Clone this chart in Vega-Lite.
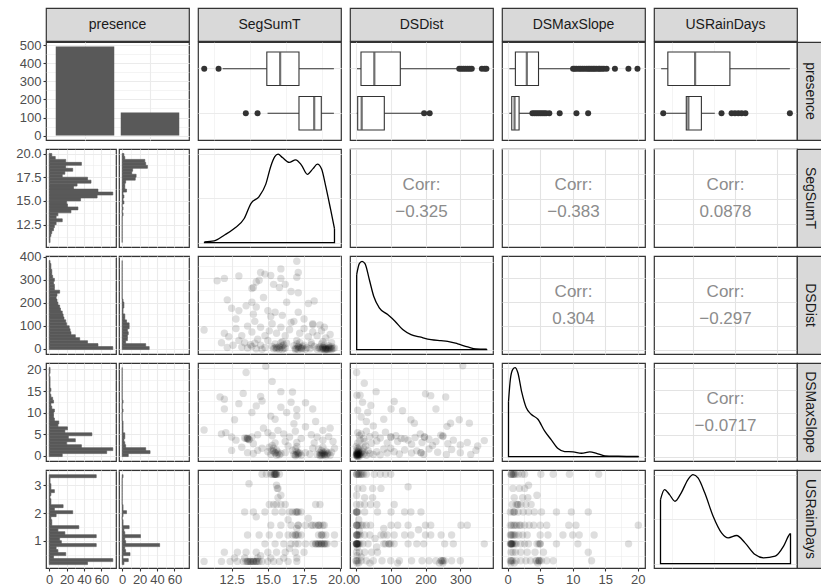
{
"$schema":"https://vega.github.io/schema/vega-lite/v6.json",
"background":"#ffffff",
"padding":{"left":15,"top":7,"right":0,"bottom":0},
"spacing":-6,
"config":{
 "font":"Liberation Sans",
 "view":{"stroke":"#333333","strokeWidth":1.2,"fill":"#ffffff"},
 "axis":{"domain":false,"ticks":false,"labels":false,"grid":true,"gridColor":"#ebebeb","labelFont":"Liberation Sans","labelFontSize":13,"labelColor":"#4d4d4d","tickColor":"#333333","tickSize":3,"tickWidth":1.1,"labelPadding":2,"labelOverlap":false,"labelFlush":false,"labelBound":false}
},
"datasets":{
 "bars":[{"presence":"0","n":494},{"presence":"1","n":128}],
 "box_seg":[{"p":"0","lo":11.88,"q1":14.93,"med":15.85,"q3":17.15,"hi":19.56},{"p":"1","lo":14.98,"q1":17.15,"med":18.2,"q3":18.69,"hi":19.56}],
 "out_seg":[{"p":"0","v":10.61},{"p":"0","v":11.6},{"p":"1","v":13.48},{"p":"1","v":14.29}],
 "box_dsd":[{"p":"0","lo":3.1,"q1":14.6,"med":52.9,"q3":127.6,"hi":292},{"p":"1","lo":2,"q1":5.1,"med":16.6,"q3":81.6,"hi":190}],
 "out_dsd":[{"p":"0","v":297},{"p":"0","v":303},{"p":"0","v":309},{"p":"0","v":315},{"p":"0","v":321},{"p":"0","v":327},{"p":"0","v":333},{"p":"0","v":362},{"p":"0","v":370},{"p":"0","v":375},{"p":"1","v":196},{"p":"1","v":212}],
 "box_dsm":[{"p":"0","lo":0.25,"q1":1.18,"med":2.94,"q3":4.74,"hi":9.8},{"p":"1","lo":0.25,"q1":0.62,"med":1.05,"q3":1.75,"hi":3.5}],
 "out_dsm":[{"p":"0","v":10.06},{"p":"0","v":10.3},{"p":"0","v":10.58},{"p":"0","v":10.93},{"p":"0","v":11.2},{"p":"0","v":11.5},{"p":"0","v":11.8},{"p":"0","v":12.12},{"p":"0","v":12.4},{"p":"0","v":12.64},{"p":"0","v":12.9},{"p":"0","v":13.16},{"p":"0","v":13.4},{"p":"0","v":13.67},{"p":"0","v":14.0},{"p":"0","v":14.19},{"p":"0","v":14.5},{"p":"0","v":14.8},{"p":"0","v":15.22},{"p":"0","v":16.5},{"p":"0","v":18.58},{"p":"0","v":19.97},
  {"p":"1","v":3.8},{"p":"1","v":4.1},{"p":"1","v":4.4},{"p":"1","v":4.7},{"p":"1","v":5.0},{"p":"1","v":5.3},{"p":"1","v":5.6},{"p":"1","v":5.9},{"p":"1","v":6.4},{"p":"1","v":8.0},{"p":"1","v":10.58},{"p":"1","v":12.38}],
 "box_usr":[{"p":"0","lo":0.24,"q1":0.4,"med":1.05,"q3":1.88,"hi":3.31},{"p":"1","lo":0.36,"q1":0.84,"med":0.89,"q3":1.2,"hi":1.52}],
 "out_usr":[{"p":"1","v":0.29},{"p":"1","v":1.68},{"p":"1","v":1.92},{"p":"1","v":2.0},{"p":"1","v":2.08},{"p":"1","v":2.16},{"p":"1","v":2.25},{"p":"1","v":3.31}],
 "h_seg":[{"lo":10.62,"hi":10.933,"n0":1,"n1":0},{"lo":10.933,"hi":11.246,"n0":1,"n1":0},{"lo":11.246,"hi":11.559,"n0":2,"n1":0},{"lo":11.559,"hi":11.872,"n0":3,"n1":0},{"lo":11.872,"hi":12.185,"n0":5,"n1":0},{"lo":12.185,"hi":12.498,"n0":6,"n1":0},{"lo":12.498,"hi":12.811,"n0":8,"n1":0},{"lo":12.811,"hi":13.124,"n0":15,"n1":0},{"lo":13.124,"hi":13.437,"n0":8,"n1":0},{"lo":13.437,"hi":13.75,"n0":10,"n1":1},{"lo":13.75,"hi":14.063,"n0":25,"n1":0},{"lo":14.063,"hi":14.376,"n0":33,"n1":1},{"lo":14.376,"hi":14.689,"n0":21,"n1":0},{"lo":14.689,"hi":15.002,"n0":20,"n1":2},{"lo":15.002,"hi":15.315,"n0":36,"n1":1},{"lo":15.315,"hi":15.628,"n0":55,"n1":2},{"lo":15.628,"hi":15.941,"n0":73,"n1":1},{"lo":15.941,"hi":16.254,"n0":56,"n1":5},{"lo":16.254,"hi":16.567,"n0":28,"n1":3},{"lo":16.567,"hi":16.88,"n0":32,"n1":3},{"lo":16.88,"hi":17.193,"n0":48,"n1":4},{"lo":17.193,"hi":17.506,"n0":44,"n1":15},{"lo":17.506,"hi":17.819,"n0":15,"n1":16},{"lo":17.819,"hi":18.132,"n0":18,"n1":11},{"lo":18.132,"hi":18.445,"n0":27,"n1":12},{"lo":18.445,"hi":18.758,"n0":19,"n1":29},{"lo":18.758,"hi":19.071,"n0":37,"n1":27},{"lo":19.071,"hi":19.384,"n0":19,"n1":26},{"lo":19.384,"hi":19.697,"n0":7,"n1":3},{"lo":19.697,"hi":20.01,"n0":3,"n1":2}],
 "h_dsd":[{"lo":-3.6,"hi":9.33,"n0":73,"n1":31},{"lo":9.33,"hi":22.26,"n0":56,"n1":27},{"lo":22.26,"hi":35.19,"n0":44,"n1":4},{"lo":35.19,"hi":48.12,"n0":35,"n1":6},{"lo":48.12,"hi":61.05,"n0":30,"n1":6},{"lo":61.05,"hi":73.98,"n0":25,"n1":7},{"lo":73.98,"hi":86.91,"n0":24,"n1":6},{"lo":86.91,"hi":99.84,"n0":23,"n1":8},{"lo":99.84,"hi":112.77,"n0":20,"n1":8},{"lo":112.77,"hi":125.7,"n0":19,"n1":5},{"lo":125.7,"hi":138.63,"n0":17,"n1":3},{"lo":138.63,"hi":151.56,"n0":16,"n1":3},{"lo":151.56,"hi":164.49,"n0":15,"n1":1},{"lo":164.49,"hi":177.42,"n0":13,"n1":1},{"lo":177.42,"hi":190.35,"n0":12,"n1":2},{"lo":190.35,"hi":203.28,"n0":10,"n1":2},{"lo":203.28,"hi":216.21,"n0":9,"n1":1},{"lo":216.21,"hi":229.14,"n0":8,"n1":0},{"lo":229.14,"hi":242.07,"n0":9,"n1":0},{"lo":242.07,"hi":255,"n0":12,"n1":0},{"lo":255,"hi":267.93,"n0":6,"n1":0},{"lo":267.93,"hi":280.86,"n0":6,"n1":0},{"lo":280.86,"hi":293.79,"n0":5,"n1":0},{"lo":293.79,"hi":306.72,"n0":6,"n1":0},{"lo":306.72,"hi":319.65,"n0":4,"n1":0},{"lo":319.65,"hi":332.58,"n0":3,"n1":0},{"lo":332.58,"hi":345.51,"n0":3,"n1":0},{"lo":345.51,"hi":358.44,"n0":2,"n1":0},{"lo":358.44,"hi":371.37,"n0":2,"n1":0},{"lo":371.37,"hi":384.3,"n0":1,"n1":0}],
 "h_dsm":[{"lo":-0.21,"hi":0.479,"n0":15,"n1":7},{"lo":0.479,"hi":1.168,"n0":66,"n1":32},{"lo":1.168,"hi":1.857,"n0":73,"n1":27},{"lo":1.857,"hi":2.546,"n0":37,"n1":4},{"lo":2.546,"hi":3.235,"n0":20,"n1":3},{"lo":3.235,"hi":3.924,"n0":30,"n1":2},{"lo":3.924,"hi":4.613,"n0":22,"n1":3},{"lo":4.613,"hi":5.302,"n0":49,"n1":3},{"lo":5.302,"hi":5.991,"n0":18,"n1":1},{"lo":5.991,"hi":6.68,"n0":21,"n1":1},{"lo":6.68,"hi":7.369,"n0":10,"n1":1},{"lo":7.369,"hi":8.058,"n0":11,"n1":1},{"lo":8.058,"hi":8.747,"n0":6,"n1":0},{"lo":8.747,"hi":9.436,"n0":5,"n1":0},{"lo":9.436,"hi":10.125,"n0":5,"n1":0},{"lo":10.125,"hi":10.814,"n0":6,"n1":1},{"lo":10.814,"hi":11.503,"n0":3,"n1":0},{"lo":11.503,"hi":12.192,"n0":2,"n1":0},{"lo":12.192,"hi":12.881,"n0":5,"n1":1},{"lo":12.881,"hi":13.57,"n0":4,"n1":0},{"lo":13.57,"hi":14.259,"n0":2,"n1":0},{"lo":14.259,"hi":14.948,"n0":1,"n1":0},{"lo":14.948,"hi":15.637,"n0":2,"n1":0},{"lo":15.637,"hi":16.326,"n0":1,"n1":0},{"lo":16.326,"hi":17.015,"n0":1,"n1":0},{"lo":17.015,"hi":17.704,"n0":1,"n1":0},{"lo":17.704,"hi":18.393,"n0":1,"n1":0},{"lo":18.393,"hi":19.082,"n0":0,"n1":0},{"lo":19.082,"hi":19.771,"n0":1,"n1":0},{"lo":19.771,"hi":20.46,"n0":1,"n1":0}],
 "h_usr":[{"lo":0.142,"hi":0.25,"n0":44,"n1":2},{"lo":0.25,"hi":0.358,"n0":73,"n1":7},{"lo":0.358,"hi":0.466,"n0":5,"n1":1},{"lo":0.466,"hi":0.574,"n0":19,"n1":9},{"lo":0.574,"hi":0.682,"n0":10,"n1":4},{"lo":0.682,"hi":0.79,"n0":8,"n1":3},{"lo":0.79,"hi":0.898,"n0":54,"n1":43},{"lo":0.898,"hi":1.006,"n0":14,"n1":4},{"lo":1.006,"hi":1.114,"n0":12,"n1":3},{"lo":1.114,"hi":1.222,"n0":54,"n1":21},{"lo":1.222,"hi":1.33,"n0":18,"n1":3},{"lo":1.33,"hi":1.438,"n0":10,"n1":2},{"lo":1.438,"hi":1.546,"n0":34,"n1":8},{"lo":1.546,"hi":1.654,"n0":3,"n1":1},{"lo":1.654,"hi":1.762,"n0":3,"n1":1},{"lo":1.762,"hi":1.87,"n0":2,"n1":0},{"lo":1.87,"hi":1.978,"n0":8,"n1":1},{"lo":1.978,"hi":2.086,"n0":27,"n1":5},{"lo":2.086,"hi":2.194,"n0":6,"n1":1},{"lo":2.194,"hi":2.302,"n0":16,"n1":1},{"lo":2.302,"hi":2.41,"n0":2,"n1":0},{"lo":2.41,"hi":2.518,"n0":2,"n1":0},{"lo":2.518,"hi":2.626,"n0":1,"n1":0},{"lo":2.626,"hi":2.734,"n0":2,"n1":0},{"lo":2.734,"hi":2.842,"n0":6,"n1":0},{"lo":2.842,"hi":2.95,"n0":2,"n1":0},{"lo":2.95,"hi":3.058,"n0":2,"n1":0},{"lo":3.058,"hi":3.166,"n0":1,"n1":0},{"lo":3.166,"hi":3.274,"n0":1,"n1":0},{"lo":3.274,"hi":3.382,"n0":54,"n1":1}],
 "dc_seg":[{"x":10.63,"d":0.0016},{"x":11.3,"d":0.0038},{"x":11.99,"d":0.0165},{"x":12.68,"d":0.0316},{"x":13.37,"d":0.0542},{"x":13.83,"d":0.0881},{"x":14.4,"d":0.104},{"x":14.86,"d":0.132},{"x":15.2,"d":0.172},{"x":15.48,"d":0.194},{"x":15.71,"d":0.1996},{"x":16.01,"d":0.192},{"x":16.47,"d":0.181},{"x":16.92,"d":0.187},{"x":17.32,"d":0.175},{"x":17.73,"d":0.154},{"x":18.12,"d":0.167},{"x":18.42,"d":0.177},{"x":18.71,"d":0.166},{"x":18.99,"d":0.128},{"x":19.33,"d":0.0753},{"x":19.6,"d":0.0316}],
 "df_seg":[{"i":0,"x":10.63,"d":0.0016},{"i":1,"x":10.63,"d":0},{"i":2,"x":19.6,"d":0},{"i":3,"x":19.6,"d":0.0316}],
 "dc_dsd":[{"x":2.2,"d":0.00646},{"x":9.8,"d":0.0074},{"x":17.5,"d":0.0076},{"x":26.1,"d":0.0074},{"x":38.5,"d":0.00603},{"x":51.1,"d":0.00459},{"x":67.2,"d":0.00359},{"x":91.3,"d":0.00301},{"x":112.3,"d":0.00244},{"x":134.4,"d":0.00172},{"x":158.3,"d":0.00129},{"x":187,"d":0.00106},{"x":215.8,"d":0.00086},{"x":244.5,"d":0.00077},{"x":263.7,"d":0.00071},{"x":292.5,"d":0.00049},{"x":321.2,"d":0.00023},{"x":345,"d":0.00006},{"x":376,"d":0.00003}],
 "df_dsd":[{"i":0,"x":2.2,"d":0.00646},{"i":1,"x":2.2,"d":0},{"i":2,"x":376,"d":0},{"i":3,"x":376,"d":0.00003}],
 "dc_dsm":[{"x":0.12,"d":0.123},{"x":0.41,"d":0.174},{"x":0.78,"d":0.196},{"x":1.13,"d":0.2},{"x":1.55,"d":0.189},{"x":2.17,"d":0.144},{"x":2.84,"d":0.11},{"x":3.61,"d":0.095},{"x":4.65,"d":0.0838},{"x":5.67,"d":0.0577},{"x":6.71,"d":0.0375},{"x":7.74,"d":0.018},{"x":8.77,"d":0.0112},{"x":10.06,"d":0.0106},{"x":11.35,"d":0.0074},{"x":12.64,"d":0.0106},{"x":13.67,"d":0.0074},{"x":14.96,"d":0.0016},{"x":17,"d":0.0007},{"x":20.13,"d":0.0001}],
 "df_dsm":[{"i":0,"x":0.12,"d":0.123},{"i":1,"x":0.12,"d":0},{"i":2,"x":20.13,"d":0},{"i":3,"x":20.13,"d":0.0001}],
 "dc_usr":[{"x":0.225,"d":0.575},{"x":0.32,"d":0.665},{"x":0.44,"d":0.62},{"x":0.57,"d":0.56},{"x":0.72,"d":0.636},{"x":0.88,"d":0.755},{"x":1.0,"d":0.8},{"x":1.12,"d":0.77},{"x":1.28,"d":0.636},{"x":1.48,"d":0.425},{"x":1.68,"d":0.276},{"x":1.84,"d":0.231},{"x":2.04,"d":0.252},{"x":2.24,"d":0.186},{"x":2.48,"d":0.081},{"x":2.68,"d":0.051},{"x":2.96,"d":0.066},{"x":3.16,"d":0.156},{"x":3.3,"d":0.261},{"x":3.325,"d":0.27}],
 "df_usr":[{"i":0,"x":0.225,"d":0.575},{"i":1,"x":0.225,"d":0},{"i":2,"x":3.325,"d":0},{"i":3,"x":3.325,"d":0.27}],
 "s_seg_dsd":[{"x":17.0,"y":372},{"x":15.9,"y":340},{"x":14.5,"y":325},{"x":14.8,"y":318},{"x":15.2,"y":312},{"x":15.9,"y":300},{"x":17.0,"y":305},{"x":17.1,"y":325},{"x":13.0,"y":310},{"x":12.0,"y":300},{"x":11.5,"y":290},{"x":14.2,"y":285},{"x":14.4,"y":292},{"x":13.9,"y":258},{"x":14.0,"y":262},{"x":15.4,"y":275},{"x":15.8,"y":262},{"x":16.2,"y":275},{"x":16.6,"y":245},{"x":17.1,"y":240},{"x":17.8,"y":195},{"x":18.2,"y":205},
  {"x":12.2,"y":210},{"x":12.5,"y":175},{"x":13.0,"y":165},{"x":13.5,"y":185},{"x":14.2,"y":180},{"x":15.0,"y":165},{"x":15.5,"y":158},{"x":16.0,"y":145},{"x":16.6,"y":115},{"x":17.1,"y":158},{"x":18.1,"y":110},{"x":18.1,"y":106},{"x":18.6,"y":105},{"x":18.9,"y":95},{"x":14.7,"y":220},{"x":13.9,"y":200},{"x":16.3,"y":200},{"x":15.2,"y":140},{"x":17.5,"y":130},{"x":12.8,"y":130},{"x":14.0,"y":150},
  {"x":10.6,"y":84},{"x":12.0,"y":70},{"x":12.3,"y":55},{"x":12.8,"y":90},{"x":13.2,"y":60},{"x":13.6,"y":100},{"x":13.9,"y":75},{"x":14.1,"y":120},{"x":14.5,"y":95},{"x":14.8,"y":60},{"x":15.1,"y":80},{"x":15.3,"y":110},{"x":15.6,"y":70},{"x":15.9,"y":95},{"x":16.2,"y":60},{"x":16.5,"y":85},{"x":16.8,"y":120},{"x":17.2,"y":70},{"x":17.5,"y":90},{"x":17.8,"y":55},{"x":18.1,"y":75},{"x":18.4,"y":60},{"x":18.7,"y":80},{"x":19.0,"y":50},{"x":19.3,"y":65},{"x":13.0,"y":40},{"x":13.4,"y":30},{"x":14.3,"y":45},{"x":15.0,"y":40},{"x":16.0,"y":35},{"x":17.0,"y":40},{"x":18.0,"y":30},{"x":18.8,"y":35},{"x":19.4,"y":30},
  {"x":15.4,"y":5},{"x":15.6,"y":12},{"x":15.8,"y":3},{"x":16.0,"y":18},{"x":16.2,"y":8},{"x":15.5,"y":25},{"x":15.9,"y":30},{"x":16.1,"y":22},{"x":15.7,"y":8},{"x":15.3,"y":15},{"x":16.3,"y":28},{"x":15.9,"y":10},
  {"x":16.9,"y":6},{"x":17.1,"y":12},{"x":17.3,"y":4},{"x":17.5,"y":20},{"x":17.7,"y":9},{"x":17.0,"y":25},{"x":17.4,"y":15},{"x":17.2,"y":30},{"x":17.6,"y":3},{"x":16.8,"y":18},{"x":17.3,"y":8},{"x":17.1,"y":2},
  {"x":18.6,"y":5},{"x":18.8,"y":12},{"x":19.0,"y":3},{"x":19.2,"y":8},{"x":19.4,"y":15},{"x":18.9,"y":20},{"x":19.1,"y":2},{"x":19.3,"y":4},{"x":18.7,"y":25},{"x":19.0,"y":10},{"x":19.5,"y":6},{"x":18.9,"y":1},{"x":19.2,"y":18},{"x":18.5,"y":10},{"x":19.4,"y":2},{"x":19.6,"y":8},{"x":19.0,"y":6},{"x":19.2,"y":3},{"x":18.8,"y":4},
  {"x":13.6,"y":8},{"x":13.9,"y":15},{"x":14.2,"y":5},{"x":14.5,"y":20},{"x":14.8,"y":10},{"x":14.1,"y":28},{"x":13.8,"y":22},{"x":14.6,"y":3},
  {"x":17.9,"y":5},{"x":18.2,"y":15},{"x":18.4,"y":3},{"x":18.0,"y":22},{"x":12.2,"y":10},{"x":12.6,"y":20},{"x":11.8,"y":30},{"x":13.2,"y":12},
  {"x":18.7,"y":3},{"x":18.9,"y":7},{"x":19.1,"y":5},{"x":19.3,"y":10},{"x":18.6,"y":14},{"x":19.0,"y":1},{"x":19.4,"y":6},{"x":18.8,"y":8},{"x":17.0,"y":5},{"x":17.2,"y":10},{"x":16.9,"y":2},{"x":17.4,"y":6},{"x":17.1,"y":16},{"x":15.6,"y":4},{"x":15.8,"y":15},{"x":16.1,"y":6},{"x":15.5,"y":9},{"x":16.0,"y":2}],
 "s_seg_dsm":[{"x":14.86,"y":20.4},{"x":13.5,"y":19},{"x":15.3,"y":17},{"x":11.7,"y":13.5},{"x":12.0,"y":13},{"x":13.3,"y":14.3},{"x":14.5,"y":13.6},{"x":14.6,"y":12.6},{"x":15.9,"y":14.7},{"x":16.7,"y":14.6},{"x":16.6,"y":12.3},{"x":15.9,"y":11.2},{"x":17.0,"y":10.7},{"x":17.0,"y":9.2},{"x":18.1,"y":10.8},{"x":12.0,"y":10.8},{"x":12.7,"y":8.4},{"x":13.9,"y":10},{"x":15.2,"y":9.2},{"x":14.2,"y":11.5},{"x":16.3,"y":10},{"x":17.6,"y":12.2},{"x":13.0,"y":12},{"x":15.5,"y":8.5},{"x":16.8,"y":7.5},{"x":18.3,"y":8},{"x":19.3,"y":6.5},{"x":18.8,"y":6},{"x":10.6,"y":6.1},
  {"x":11.8,"y":5.2},{"x":12.1,"y":5.5},{"x":12.5,"y":4.5},{"x":12.8,"y":3.8},{"x":13.4,"y":4.3},{"x":13.6,"y":4.1},{"x":13.7,"y":3.9},{"x":13.6,"y":4.3},{"x":13.9,"y":4.5},{"x":14.3,"y":5},{"x":14.7,"y":6.5},{"x":15.0,"y":5.5},{"x":15.3,"y":4.8},{"x":15.7,"y":6},{"x":16.1,"y":5.2},{"x":16.5,"y":4.5},{"x":16.9,"y":5.8},{"x":17.3,"y":4.2},{"x":17.6,"y":6.8},{"x":18.0,"y":5},{"x":18.4,"y":4.5},{"x":18.8,"y":3.8},{"x":19.2,"y":4.6},{"x":19.5,"y":3.5},{"x":16.2,"y":3.5},{"x":15.5,"y":3.2},{"x":14.0,"y":3},{"x":17.0,"y":3.3},{"x":18.2,"y":3.2},
  {"x":15.0,"y":1.2},{"x":15.2,"y":0.6},{"x":15.4,"y":2},{"x":15.5,"y":0.9},{"x":15.6,"y":1.6},{"x":15.8,"y":0.5},{"x":15.3,"y":2.6},{"x":15.7,"y":1.1},{"x":15.1,"y":2.2},{"x":15.9,"y":0.8},{"x":15.4,"y":1.3},{"x":15.6,"y":0.4},
  {"x":16.8,"y":0.6},{"x":17.0,"y":1.2},{"x":17.1,"y":0.5},{"x":17.2,"y":0.9},{"x":16.9,"y":1.8},{"x":17.3,"y":0.4},{"x":17.0,"y":2.4},{"x":16.7,"y":1.5},{"x":17.1,"y":0.8},{"x":16.9,"y":0.3},
  {"x":18.4,"y":0.6},{"x":18.6,"y":1},{"x":18.7,"y":0.4},{"x":18.8,"y":0.8},{"x":18.9,"y":0.5},{"x":19.0,"y":1.3},{"x":19.1,"y":0.6},{"x":18.5,"y":1.8},{"x":18.8,"y":2.2},{"x":19.2,"y":0.9},{"x":19.3,"y":0.4},{"x":18.7,"y":1.5},{"x":18.6,"y":0.3},{"x":19.4,"y":1.1},{"x":18.9,"y":0.9},{"x":19.0,"y":0.3},{"x":18.8,"y":0.5},
  {"x":13.6,"y":1},{"x":14.0,"y":0.8},{"x":14.3,"y":1.5},{"x":14.6,"y":2},{"x":16.2,"y":1},{"x":16.4,"y":2.5},{"x":17.6,"y":1},{"x":17.9,"y":0.7},{"x":18.1,"y":2},{"x":12.5,"y":1.5},{"x":13.2,"y":2.2},{"x":19.6,"y":2},
  {"x":18.7,"y":0.7},{"x":18.9,"y":0.6},{"x":19.1,"y":0.9},{"x":18.6,"y":0.5},{"x":18.8,"y":1.1},{"x":17.0,"y":0.7},{"x":17.1,"y":1.0},{"x":16.9,"y":0.5},{"x":15.5,"y":1.0},{"x":15.7,"y":0.7},{"x":15.3,"y":1.5},{"x":13.6,"y":4.1},{"x":13.7,"y":4.0},{"x":13.5,"y":4.2}],
 "s_seg_usr":[{"x":14.6,"y":3.33},{"x":14.9,"y":3.33},{"x":15.2,"y":3.33},{"x":15.4,"y":3.33},{"x":15.5,"y":3.33},{"x":15.6,"y":3.33},{"x":15.8,"y":3.33},{"x":15.3,"y":3.33},{"x":15.5,"y":3.33},{"x":15.6,"y":3.33},
  {"x":15.7,"y":2.84},{"x":15.6,"y":2.95},{"x":15.7,"y":2.52},{"x":13.7,"y":3.0},{"x":15.9,"y":2.6},{"x":15.65,"y":2.84},
  {"x":15.1,"y":2.28},{"x":15.4,"y":2.28},{"x":15.6,"y":2.28},{"x":15.9,"y":2.28},{"x":18.3,"y":2.28},{"x":18.6,"y":2.28},{"x":16.2,"y":2.28},
  {"x":13.4,"y":2.02},{"x":14.0,"y":2.02},{"x":14.8,"y":2.02},{"x":15.5,"y":2.02},{"x":16.0,"y":2.02},{"x":16.5,"y":2.02},{"x":16.9,"y":2.02},{"x":17.1,"y":2.02},{"x":17.3,"y":2.02},{"x":16.7,"y":2.02},{"x":17.0,"y":2.02},
  {"x":14.2,"y":1.85},{"x":16.4,"y":1.75},{"x":17.8,"y":1.8},
  {"x":15.2,"y":1.56},{"x":15.9,"y":1.56},{"x":16.6,"y":1.56},{"x":17.1,"y":1.56},{"x":17.6,"y":1.56},{"x":18.0,"y":1.56},{"x":18.3,"y":1.56},{"x":18.6,"y":1.56},{"x":18.9,"y":1.56},{"x":18.1,"y":1.56},{"x":18.5,"y":1.56},{"x":17.0,"y":1.45},
  {"x":13.6,"y":1.22},{"x":14.4,"y":1.22},{"x":15.1,"y":1.22},{"x":15.8,"y":1.22},{"x":16.4,"y":1.22},{"x":16.7,"y":1.22},{"x":17.0,"y":1.22},{"x":17.3,"y":1.22},{"x":18.5,"y":1.22},{"x":18.8,"y":1.22},{"x":19.0,"y":1.22},{"x":19.6,"y":1.22},{"x":16.9,"y":1.22},{"x":18.7,"y":1.22},{"x":17.1,"y":1.22},
  {"x":14.8,"y":0.91},{"x":15.5,"y":0.91},{"x":16.1,"y":0.91},{"x":16.6,"y":0.91},{"x":17.1,"y":0.91},{"x":17.6,"y":0.91},{"x":18.1,"y":0.91},{"x":18.3,"y":0.91},{"x":18.5,"y":0.91},{"x":18.7,"y":0.91},{"x":18.9,"y":0.91},{"x":19.1,"y":0.91},{"x":18.4,"y":0.91},{"x":18.8,"y":0.91},{"x":19.6,"y":0.91},{"x":18.6,"y":0.91},{"x":19.0,"y":0.91},
  {"x":12.0,"y":0.62},{"x":12.9,"y":0.62},{"x":13.5,"y":0.62},{"x":14.2,"y":0.62},{"x":15.0,"y":0.62},{"x":15.6,"y":0.62},{"x":16.2,"y":0.62},{"x":16.9,"y":0.62},{"x":17.5,"y":0.62},{"x":14.5,"y":0.5},{"x":16.5,"y":0.75},
  {"x":12.7,"y":0.42},{"x":13.4,"y":0.42},{"x":14.3,"y":0.42},{"x":15.2,"y":0.42},{"x":16.1,"y":0.42},{"x":17.0,"y":0.42},
  {"x":10.6,"y":0.3},{"x":11.8,"y":0.3},{"x":12.4,"y":0.3},{"x":12.9,"y":0.3},{"x":13.3,"y":0.3},{"x":13.6,"y":0.3},{"x":13.8,"y":0.3},{"x":14.0,"y":0.3},{"x":14.2,"y":0.3},{"x":14.4,"y":0.3},{"x":14.6,"y":0.3},{"x":15.0,"y":0.3},{"x":15.4,"y":0.3},{"x":15.8,"y":0.3},{"x":16.4,"y":0.3},{"x":17.0,"y":0.3},{"x":13.9,"y":0.3},{"x":14.1,"y":0.3},{"x":13.5,"y":0.3},{"x":13.7,"y":0.3},{"x":14.3,"y":0.3},
  {"x":15.45,"y":3.33},{"x":15.55,"y":3.33},{"x":15.5,"y":3.33},{"x":18.5,"y":0.91},{"x":18.7,"y":0.91},{"x":18.9,"y":0.91},{"x":18.3,"y":0.91},{"x":18.5,"y":1.56},{"x":18.8,"y":1.56},{"x":16.9,"y":1.22},{"x":18.7,"y":1.22},{"x":17.0,"y":2.02},{"x":13.8,"y":0.3},{"x":14.0,"y":0.3},{"x":13.6,"y":0.3},{"x":14.2,"y":0.3},{"x":17.1,"y":1.56},{"x":16.9,"y":0.91}],
 "s_dsd_dsm":[{"x":307,"y":20.5},{"x":2,"y":19},{"x":24,"y":16.6},{"x":3,"y":13.9},{"x":12,"y":13.9},{"x":19,"y":12.3},{"x":58,"y":14.7},{"x":43,"y":11.6},{"x":34,"y":10},{"x":200,"y":14.2},{"x":215,"y":13.8},{"x":258,"y":13.5},{"x":101,"y":10.8},{"x":134,"y":10.4},{"x":158,"y":8.4},{"x":168,"y":7.6},{"x":297,"y":8.4},{"x":272,"y":7.6},{"x":262,"y":6.9},{"x":326,"y":7.6},{"x":369,"y":3.7},{"x":15,"y":9},{"x":5,"y":10.5},{"x":30,"y":8},{"x":80,"y":8.5},{"x":110,"y":12.5},{"x":230,"y":10.8},{"x":50,"y":7},
  {"x":5,"y":5.5},{"x":10,"y":4.8},{"x":15,"y":5.2},{"x":22,"y":4.2},{"x":30,"y":5.8},{"x":40,"y":4.6},{"x":55,"y":5},{"x":70,"y":4.3},{"x":85,"y":5.6},{"x":100,"y":4.5},{"x":115,"y":4.8},{"x":130,"y":4.2},{"x":140,"y":4.1},{"x":150,"y":3.8},{"x":170,"y":4.4},{"x":185,"y":5.2},{"x":197,"y":4.5},{"x":210,"y":4},{"x":230,"y":3.5},{"x":244,"y":4.9},{"x":250,"y":4.6},{"x":264,"y":3},{"x":280,"y":3.8},{"x":300,"y":2.7},{"x":320,"y":3.3},{"x":5,"y":3.2},{"x":12,"y":3.8},{"x":25,"y":3.5},{"x":45,"y":3.1},{"x":60,"y":3.6},{"x":90,"y":3.2},{"x":120,"y":3.5},{"x":160,"y":2.9},{"x":190,"y":3.3},{"x":220,"y":2.6},{"x":350,"y":2.5},
  {"x":1,"y":0.3},{"x":3,"y":0.6},{"x":5,"y":0.4},{"x":7,"y":0.9},{"x":9,"y":0.5},{"x":4,"y":1.2},{"x":2,"y":1.5},{"x":10,"y":0.2},{"x":12,"y":0.8},{"x":15,"y":1},{"x":6,"y":2},{"x":3,"y":0.8},{"x":8,"y":1.6},{"x":14,"y":0.5},{"x":18,"y":1.3},{"x":20,"y":0.6},{"x":25,"y":0.9},{"x":30,"y":0.4},{"x":35,"y":1.5},{"x":40,"y":0.8},{"x":1,"y":2.4},{"x":11,"y":2.2},{"x":22,"y":2},{"x":28,"y":2.5},{"x":6,"y":0.1},{"x":2,"y":0.7},{"x":4,"y":0.3},{"x":8,"y":0.6},
  {"x":50,"y":0.6},{"x":60,"y":1.2},{"x":70,"y":0.5},{"x":80,"y":1.8},{"x":90,"y":0.9},{"x":100,"y":2},{"x":110,"y":1.2},{"x":125,"y":0.7},{"x":140,"y":1.6},{"x":160,"y":0.9},{"x":175,"y":1.4},{"x":187,"y":1},{"x":195,"y":0.6},{"x":210,"y":1.8},{"x":235,"y":1.1},{"x":260,"y":0.6},{"x":275,"y":1.7},{"x":300,"y":1},{"x":330,"y":0.6},{"x":345,"y":1.5},
  {"x":2,"y":0.5},{"x":4,"y":0.8},{"x":6,"y":0.4},{"x":3,"y":1.0},{"x":5,"y":0.6},{"x":8,"y":0.9},{"x":1,"y":0.5},{"x":10,"y":0.6},{"x":7,"y":1.2},{"x":4,"y":0.2},{"x":250,"y":4.8},{"x":197,"y":4.5},{"x":101,"y":4.5},{"x":187,"y":1.0}],
 "s_dsd_usr":[{"x":2,"y":3.33},{"x":8,"y":3.33},{"x":15,"y":3.33},{"x":22,"y":3.33},{"x":30,"y":3.33},{"x":53,"y":3.33},{"x":70,"y":3.33},{"x":85,"y":3.33},{"x":100,"y":3.33},{"x":12,"y":3.33},{"x":4,"y":3.33},{"x":18,"y":3.33},
  {"x":5,"y":2.84},{"x":20,"y":2.84},{"x":48,"y":2.84},{"x":72,"y":2.84},{"x":150,"y":2.9},
  {"x":25,"y":2.52},{"x":48,"y":2.52},{"x":2,"y":2.6},
  {"x":2,"y":2.28},{"x":12,"y":2.28},{"x":25,"y":2.28},{"x":42,"y":2.28},{"x":60,"y":2.28},{"x":110,"y":2.28},
  {"x":2,"y":2.02},{"x":3,"y":2.02},{"x":5,"y":2.02},{"x":25,"y":2.02},{"x":62,"y":2.02},{"x":101,"y":2.02},{"x":140,"y":2.02},{"x":158,"y":2.02},{"x":187,"y":2.02},{"x":1,"y":2.02},
  {"x":2,"y":1.56},{"x":8,"y":1.56},{"x":15,"y":1.56},{"x":30,"y":1.56},{"x":42,"y":1.56},{"x":101,"y":1.56},{"x":120,"y":1.56},{"x":150,"y":1.56},{"x":200,"y":1.56},{"x":215,"y":1.56},{"x":302,"y":1.56},{"x":320,"y":1.56},{"x":8,"y":1.75},{"x":80,"y":1.45},{"x":180,"y":1.4},{"x":4,"y":1.56},{"x":20,"y":1.56},
  {"x":2,"y":1.22},{"x":5,"y":1.22},{"x":12,"y":1.22},{"x":25,"y":1.22},{"x":40,"y":1.22},{"x":72,"y":1.22},{"x":90,"y":1.22},{"x":110,"y":1.22},{"x":140,"y":1.22},{"x":158,"y":1.22},{"x":200,"y":1.22},{"x":215,"y":1.22},{"x":245,"y":1.22},{"x":275,"y":1.22},{"x":10,"y":1.35},{"x":55,"y":1.1},{"x":3,"y":1.22},{"x":8,"y":1.22},{"x":80,"y":1.22},
  {"x":1,"y":0.91},{"x":3,"y":0.91},{"x":5,"y":0.91},{"x":8,"y":0.91},{"x":12,"y":0.91},{"x":20,"y":0.91},{"x":35,"y":0.91},{"x":80,"y":0.91},{"x":95,"y":0.91},{"x":110,"y":0.91},{"x":150,"y":0.91},{"x":175,"y":0.91},{"x":195,"y":0.91},{"x":255,"y":0.91},{"x":280,"y":0.91},{"x":369,"y":0.91},{"x":2,"y":0.91},{"x":4,"y":0.78},{"x":60,"y":0.8},{"x":2,"y":0.91},{"x":6,"y":0.91},{"x":100,"y":0.91},
  {"x":2,"y":0.62},{"x":10,"y":0.62},{"x":25,"y":0.62},{"x":45,"y":0.62},{"x":62,"y":0.62},{"x":3,"y":0.5},{"x":15,"y":0.45},
  {"x":0,"y":0.32},{"x":5,"y":0.32},{"x":15,"y":0.32},{"x":30,"y":0.32},{"x":50,"y":0.32},{"x":75,"y":0.32},{"x":100,"y":0.32},{"x":125,"y":0.32},{"x":160,"y":0.32},{"x":190,"y":0.32},{"x":210,"y":0.32},{"x":230,"y":0.32},{"x":245,"y":0.32},{"x":250,"y":0.32},{"x":255,"y":0.32},{"x":275,"y":0.32},{"x":300,"y":0.32},{"x":8,"y":0.24},{"x":40,"y":0.24},{"x":240,"y":0.24},{"x":250,"y":0.24},{"x":3,"y":0.24},{"x":120,"y":0.24},
  {"x":2,"y":0.91},{"x":3,"y":0.91},{"x":1,"y":0.91},{"x":4,"y":0.91},{"x":2,"y":1.22},{"x":3,"y":1.22},{"x":2,"y":1.56},{"x":3,"y":1.56},{"x":2,"y":2.02},{"x":2,"y":3.33},{"x":8,"y":3.33},{"x":85,"y":0.91},{"x":95,"y":0.91},{"x":250,"y":0.32},{"x":245,"y":0.32},{"x":2,"y":0.32}],
 "s_dsm_usr":[{"x":0.5,"y":3.33},{"x":0.8,"y":3.33},{"x":1.2,"y":3.33},{"x":1.6,"y":3.33},{"x":2.2,"y":3.33},{"x":2.6,"y":3.33},{"x":5.1,"y":3.33},{"x":7,"y":3.33},{"x":9.5,"y":3.33},{"x":14,"y":3.33},{"x":1,"y":3.33},{"x":0.6,"y":3.33},
  {"x":0.8,"y":2.84},{"x":1.8,"y":2.84},{"x":2.6,"y":2.84},{"x":3.2,"y":2.95},
  {"x":1.0,"y":2.52},{"x":2.3,"y":2.52},{"x":3.1,"y":2.52},{"x":4.5,"y":2.6},
  {"x":0.7,"y":2.28},{"x":1.3,"y":2.28},{"x":2.0,"y":2.28},{"x":2.8,"y":2.28},{"x":3.6,"y":2.28},{"x":1.6,"y":2.28},
  {"x":0.4,"y":2.02},{"x":1.0,"y":2.02},{"x":1.6,"y":2.02},{"x":2.4,"y":2.02},{"x":3.2,"y":2.02},{"x":4.1,"y":2.02},{"x":5.2,"y":2.02},{"x":7.5,"y":2.02},{"x":9.8,"y":2.02},{"x":12.4,"y":2.02},{"x":0.8,"y":2.02},
  {"x":0.4,"y":1.56},{"x":0.9,"y":1.56},{"x":1.4,"y":1.56},{"x":2.0,"y":1.56},{"x":2.6,"y":1.56},{"x":3.3,"y":1.56},{"x":4.0,"y":1.56},{"x":5.0,"y":1.56},{"x":6.0,"y":1.56},{"x":9.4,"y":1.56},{"x":10.5,"y":1.56},{"x":20.1,"y":1.56},{"x":1.1,"y":1.56},{"x":1.8,"y":1.56},
  {"x":0.4,"y":1.22},{"x":0.8,"y":1.22},{"x":1.2,"y":1.22},{"x":1.7,"y":1.22},{"x":2.3,"y":1.22},{"x":3.0,"y":1.22},{"x":5.0,"y":1.22},{"x":6.2,"y":1.22},{"x":8.5,"y":1.22},{"x":10,"y":1.22},{"x":11,"y":1.22},{"x":13.3,"y":1.22},{"x":0.6,"y":1.22},{"x":1,"y":1.22},
  {"x":0.5,"y":0.91},{"x":0.6,"y":0.91},{"x":0.9,"y":0.91},{"x":1.3,"y":0.91},{"x":2.0,"y":0.91},{"x":2.6,"y":0.91},{"x":3.2,"y":0.91},{"x":4.5,"y":0.91},{"x":5.0,"y":0.91},{"x":7.5,"y":0.91},{"x":10.8,"y":0.91},{"x":18.6,"y":0.91},{"x":0.4,"y":0.91},{"x":0.7,"y":0.91},{"x":1.1,"y":0.91},{"x":4.8,"y":0.91},{"x":0.5,"y":0.91},
  {"x":0.5,"y":0.62},{"x":1.2,"y":0.62},{"x":2.0,"y":0.62},{"x":3.0,"y":0.62},{"x":4.2,"y":0.62},{"x":5.5,"y":0.62},{"x":12.4,"y":0.62},{"x":0.8,"y":0.62},
  {"x":0.4,"y":0.32},{"x":0.8,"y":0.32},{"x":1.3,"y":0.32},{"x":2.0,"y":0.32},{"x":2.8,"y":0.32},{"x":3.5,"y":0.32},{"x":4.3,"y":0.32},{"x":4.8,"y":0.32},{"x":5.2,"y":0.32},{"x":6.0,"y":0.32},{"x":7.0,"y":0.32},{"x":12.9,"y":0.32},{"x":0.5,"y":0.24},{"x":4.6,"y":0.24},{"x":4.5,"y":0.32},{"x":1.0,"y":0.24},
  {"x":0.5,"y":0.91},{"x":0.6,"y":0.91},{"x":0.7,"y":0.91},{"x":0.5,"y":1.22},{"x":0.6,"y":1.56},{"x":0.5,"y":0.32},{"x":0.6,"y":0.32},{"x":0.6,"y":3.33},{"x":0.9,"y":3.33},{"x":4.8,"y":0.32},{"x":5.0,"y":0.91},{"x":4.9,"y":0.32},{"x":1.0,"y":2.02},{"x":1.5,"y":2.28}]
},
"vconcat":[
 {"hconcat":[
  {"width":143,"height":33,"view":{"fill":"#d9d9d9","stroke":"#333333","strokeWidth":1.2},"data":{"values":[{"s":"presence"}]},"mark":{"type":"text","fontSize":14,"color":"#1a1a1a"},"encoding":{"text":{"field":"s"}}},
  {"width":143,"height":33,"view":{"fill":"#d9d9d9","stroke":"#333333","strokeWidth":1.2},"data":{"values":[{"s":"SegSumT"}]},"mark":{"type":"text","fontSize":14,"color":"#1a1a1a"},"encoding":{"text":{"field":"s"}}},
  {"width":143,"height":33,"view":{"fill":"#d9d9d9","stroke":"#333333","strokeWidth":1.2},"data":{"values":[{"s":"DSDist"}]},"mark":{"type":"text","fontSize":14,"color":"#1a1a1a"},"encoding":{"text":{"field":"s"}}},
  {"width":143,"height":33,"view":{"fill":"#d9d9d9","stroke":"#333333","strokeWidth":1.2},"data":{"values":[{"s":"DSMaxSlope"}]},"mark":{"type":"text","fontSize":14,"color":"#1a1a1a"},"encoding":{"text":{"field":"s"}}},
  {"width":143,"height":33,"view":{"fill":"#d9d9d9","stroke":"#333333","strokeWidth":1.2},"data":{"values":[{"s":"USRainDays"}]},"mark":{"type":"text","fontSize":14,"color":"#1a1a1a"},"encoding":{"text":{"field":"s"}}}
 ],"spacing":9,"bounds":"flush"},
 {"vconcat":[
  {"hconcat":[
   {"width":143,"height":98,"data":{"name":"bars"},"mark":{"type":"bar","color":"#595959"},
    "encoding":{"x":{"field":"presence","type":"nominal","title":null,"scale":{"paddingInner":0.1,"paddingOuter":0.15},"axis":{"title":null,"bandPosition":0.5,"gridWidth":1.1}},
     "y":{"field":"n","type":"quantitative","title":null,"scale":{"domain":[-24.7,518.7],"nice":false,"zero":false},"axis":{"title":null,"values":[0,50,100,150,200,250,300,350,400,450,500],"gridWidth":{"condition":{"test":"indexof([0,100,200,300,400,500],datum.value)>=0","value":1.1},"value":0.55},"labels":true,"ticks":true,"labelOverlap":false,"labelFlush":false,"format":"d","labelExpr":"indexof([0,100,200,300,400,500],datum.value)>=0?datum.label:''","tickOpacity":{"condition":{"test":"indexof([0,100,200,300,400,500],datum.value)<0","value":0},"value":1}}},
     "y2":{"datum":0}}},
   {"width":9,"height":98,"view":{"stroke":null,"fill":null},"data":{"values":[]},"mark":"point"},
   {"width":143,"height":98,"layer":[
    {"data":{"name":"box_seg"},"mark":{"type":"rule","color":"#333333","strokeWidth":1.1},"encoding":{"x":{"field":"lo","type":"quantitative","title":null,"scale":{"domain":[10.18,20.05],"nice":false,"zero":false},"axis":{"title":null,"values":[11.25,12.5,13.75,15,16.25,17.5,18.75,20],"gridWidth":{"condition":{"test":"indexof([12.5,15,17.5,20],datum.value)>=0","value":1.1},"value":0.55}}},"x2":{"field":"hi"},"y":{"field":"p","type":"nominal","title":null,"scale":{"domain":["0","1"],"paddingInner":0,"paddingOuter":0.1},"axis":{"title":null,"bandPosition":0.5,"gridWidth":1.1}}}},
    {"data":{"name":"box_seg"},"mark":{"type":"bar","fill":"#ffffff","stroke":"#333333","strokeWidth":1.1,"height":{"band":0.75}},"encoding":{"x":{"field":"q1","type":"quantitative","title":null},"x2":{"field":"q3"},"y":{"field":"p","type":"nominal","title":null}}},
    {"data":{"name":"box_seg"},"mark":{"type":"tick","color":"#333333","thickness":2.2,"size":33},"encoding":{"x":{"field":"med","type":"quantitative","title":null},"y":{"field":"p","type":"nominal","title":null}}},
    {"data":{"name":"out_seg"},"mark":{"type":"circle","color":"#333333","opacity":1,"size":36},"encoding":{"x":{"field":"v","type":"quantitative","title":null},"y":{"field":"p","type":"nominal","title":null}}}
   ]},
   {"width":9,"height":98,"view":{"stroke":null,"fill":null},"data":{"values":[]},"mark":"point"},
   {"width":143,"height":98,"layer":[
    {"data":{"name":"box_dsd"},"mark":{"type":"rule","color":"#333333","strokeWidth":1.1},"encoding":{"x":{"field":"lo","type":"quantitative","title":null,"scale":{"domain":[-17,394],"nice":false,"zero":false},"axis":{"title":null,"values":[0,50,100,150,200,250,300,350],"gridWidth":{"condition":{"test":"indexof([0,100,200,300],datum.value)>=0","value":1.1},"value":0.55}}},"x2":{"field":"hi"},"y":{"field":"p","type":"nominal","title":null,"scale":{"domain":["0","1"],"paddingInner":0,"paddingOuter":0.1},"axis":{"title":null,"bandPosition":0.5,"gridWidth":1.1}}}},
    {"data":{"name":"box_dsd"},"mark":{"type":"bar","fill":"#ffffff","stroke":"#333333","strokeWidth":1.1,"height":{"band":0.75}},"encoding":{"x":{"field":"q1","type":"quantitative","title":null},"x2":{"field":"q3"},"y":{"field":"p","type":"nominal","title":null}}},
    {"data":{"name":"box_dsd"},"mark":{"type":"tick","color":"#333333","thickness":2.2,"size":33},"encoding":{"x":{"field":"med","type":"quantitative","title":null},"y":{"field":"p","type":"nominal","title":null}}},
    {"data":{"name":"out_dsd"},"mark":{"type":"circle","color":"#333333","opacity":1,"size":36},"encoding":{"x":{"field":"v","type":"quantitative","title":null},"y":{"field":"p","type":"nominal","title":null}}}
   ]},
   {"width":9,"height":98,"view":{"stroke":null,"fill":null},"data":{"values":[]},"mark":"point"},
   {"width":143,"height":98,"layer":[
    {"data":{"name":"box_dsm"},"mark":{"type":"rule","color":"#333333","strokeWidth":1.1},"encoding":{"x":{"field":"lo","type":"quantitative","title":null,"scale":{"domain":[-0.88,21.13],"nice":false,"zero":false},"axis":{"title":null,"values":[0,2.5,5,7.5,10,12.5,15,17.5,20],"gridWidth":{"condition":{"test":"indexof([0,5,10,15,20],datum.value)>=0","value":1.1},"value":0.55}}},"x2":{"field":"hi"},"y":{"field":"p","type":"nominal","title":null,"scale":{"domain":["0","1"],"paddingInner":0,"paddingOuter":0.1},"axis":{"title":null,"bandPosition":0.5,"gridWidth":1.1}}}},
    {"data":{"name":"box_dsm"},"mark":{"type":"bar","fill":"#ffffff","stroke":"#333333","strokeWidth":1.1,"height":{"band":0.75}},"encoding":{"x":{"field":"q1","type":"quantitative","title":null},"x2":{"field":"q3"},"y":{"field":"p","type":"nominal","title":null}}},
    {"data":{"name":"box_dsm"},"mark":{"type":"tick","color":"#333333","thickness":2.2,"size":33},"encoding":{"x":{"field":"med","type":"quantitative","title":null},"y":{"field":"p","type":"nominal","title":null}}},
    {"data":{"name":"out_dsm"},"mark":{"type":"circle","color":"#333333","opacity":1,"size":36},"encoding":{"x":{"field":"v","type":"quantitative","title":null},"y":{"field":"p","type":"nominal","title":null}}}
   ]},
   {"width":9,"height":98,"view":{"stroke":null,"fill":null},"data":{"values":[]},"mark":"point"},
   {"width":143,"height":98,"layer":[
    {"data":{"name":"box_usr"},"mark":{"type":"rule","color":"#333333","strokeWidth":1.1},"encoding":{"x":{"field":"lo","type":"quantitative","title":null,"scale":{"domain":[0.07,3.48],"nice":false,"zero":false},"axis":{"title":null,"values":[0.5,1,1.5,2,2.5,3],"gridWidth":{"condition":{"test":"indexof([1,2,3],datum.value)>=0","value":1.1},"value":0.55}}},"x2":{"field":"hi"},"y":{"field":"p","type":"nominal","title":null,"scale":{"domain":["0","1"],"paddingInner":0,"paddingOuter":0.1},"axis":{"title":null,"bandPosition":0.5,"gridWidth":1.1}}}},
    {"data":{"name":"box_usr"},"mark":{"type":"bar","fill":"#ffffff","stroke":"#333333","strokeWidth":1.1,"height":{"band":0.75}},"encoding":{"x":{"field":"q1","type":"quantitative","title":null},"x2":{"field":"q3"},"y":{"field":"p","type":"nominal","title":null}}},
    {"data":{"name":"box_usr"},"mark":{"type":"tick","color":"#333333","thickness":2.2,"size":33},"encoding":{"x":{"field":"med","type":"quantitative","title":null},"y":{"field":"p","type":"nominal","title":null}}},
    {"data":{"name":"out_usr"},"mark":{"type":"circle","color":"#333333","opacity":1,"size":36},"encoding":{"x":{"field":"v","type":"quantitative","title":null},"y":{"field":"p","type":"nominal","title":null}}}
   ]},
   {"width":25,"height":98,"view":{"fill":"#d9d9d9","stroke":"#333333","strokeWidth":1.2},"data":{"values":[{"s":"presence"}]},"mark":{"type":"text","fontSize":14,"color":"#1a1a1a","angle":90},"encoding":{"text":{"field":"s"}}}
  ],"spacing":0,"bounds":"flush"},
  {"concat":[
   {"width":70,"height":98,"data":{"name":"h_seg"},"mark":{"type":"bar","color":"#595959","stroke":"#595959","strokeWidth":0.6},"encoding":{"x":{"field":"n0","type":"quantitative","title":null,"scale":{"domain":[-3.65,76.65],"nice":false,"zero":false},"axis":{"title":null,"values":[0,10,20,30,40,50,60,70],"gridWidth":{"condition":{"test":"indexof([0,20,40,60],datum.value)>=0","value":1.1},"value":0.55}}},"x2":{"datum":0},"y":{"field":"lo","type":"quantitative","title":null,"scale":{"domain":[10.15,20.48],"nice":false,"zero":false},"axis":{"title":null,"values":[11.25,12.5,13.75,15,16.25,17.5,18.75,20],"gridWidth":{"condition":{"test":"indexof([12.5,15,17.5,20],datum.value)>=0","value":1.1},"value":0.55},"labels":true,"ticks":true,"labelOverlap":false,"labelFlush":false,"format":".1f","labelExpr":"indexof([12.5,15,17.5,20],datum.value)>=0?datum.label:''","tickOpacity":{"condition":{"test":"indexof([12.5,15,17.5,20],datum.value)<0","value":0},"value":1}}},"y2":{"field":"hi"}}},
   {"width":3,"height":98,"view":{"stroke":null,"fill":null},"data":{"values":[]},"mark":"point"},
   {"width":70,"height":98,"data":{"name":"h_seg"},"mark":{"type":"bar","color":"#595959","stroke":"#595959","strokeWidth":0.6},"encoding":{"x":{"field":"n1","type":"quantitative","title":null,"scale":{"domain":[-3.65,76.65],"nice":false,"zero":false},"axis":{"title":null,"values":[0,10,20,30,40,50,60,70],"gridWidth":{"condition":{"test":"indexof([0,20,40,60],datum.value)>=0","value":1.1},"value":0.55}}},"x2":{"datum":0},"y":{"field":"lo","type":"quantitative","title":null,"scale":{"domain":[10.15,20.48],"nice":false,"zero":false},"axis":{"title":null,"values":[11.25,12.5,13.75,15,16.25,17.5,18.75,20],"gridWidth":{"condition":{"test":"indexof([12.5,15,17.5,20],datum.value)>=0","value":1.1},"value":0.55}}},"y2":{"field":"hi"}}},
   {"width":9,"height":98,"view":{"stroke":null,"fill":null},"data":{"values":[]},"mark":"point"},
   {"width":143,"height":98,"layer":[
    {"data":{"name":"dc_seg"},"mark":{"type":"line","color":"#000000","strokeWidth":1.3,"interpolate":"monotone"},"encoding":{"x":{"field":"x","type":"quantitative","title":null,"scale":{"domain":[10.18,20.05],"nice":false,"zero":false},"axis":{"title":null,"values":[11.25,12.5,13.75,15,16.25,17.5,18.75,20],"gridWidth":{"condition":{"test":"indexof([12.5,15,17.5,20],datum.value)>=0","value":1.1},"value":0.55}}},"y":{"field":"d","type":"quantitative","title":null,"scale":{"domain":[-0.0101,0.2114],"nice":false,"zero":false},"axis":{"title":null,"values":[0,0.025,0.05,0.075,0.1,0.125,0.15,0.175,0.2],"gridWidth":{"condition":{"test":"indexof([0,0.05,0.1,0.15,0.2],datum.value)>=0","value":1.1},"value":0.55}}}}},
    {"data":{"name":"df_seg"},"mark":{"type":"line","color":"#000000","strokeWidth":1.3},"encoding":{"x":{"field":"x","type":"quantitative","title":null},"y":{"field":"d","type":"quantitative","title":null},"order":{"field":"i","type":"quantitative"}}}
   ]},
   {"width":9,"height":98,"view":{"stroke":null,"fill":null},"data":{"values":[]},"mark":"point"},
   {"width":143,"height":98,"data":{"values":[{"a":"Corr:","b":"\u22120.325"}]},"layer":[
    {"mark":{"type":"point","opacity":0},"encoding":{"x":{"datum":100,"type":"quantitative","scale":{"domain":[-17,394],"nice":false,"zero":false},"axis":{"title":null,"values":[0,100,200,300],"gridWidth":1.1,"gridColor":"#e3e3e3"}},"y":{"datum":15,"type":"quantitative","scale":{"domain":[10.18,20.05],"nice":false,"zero":false},"axis":{"title":null,"values":[12.5,15,17.5,20],"gridWidth":1.1,"gridColor":"#e3e3e3"}}}},
    {"mark":{"type":"text","fontSize":17,"color":"#8c8c8c","dy":-13},"encoding":{"text":{"field":"a"}}},
    {"mark":{"type":"text","fontSize":17,"color":"#8c8c8c","dy":14},"encoding":{"text":{"field":"b"}}}
   ]},
   {"width":9,"height":98,"view":{"stroke":null,"fill":null},"data":{"values":[]},"mark":"point"},
   {"width":143,"height":98,"data":{"values":[{"a":"Corr:","b":"\u22120.383"}]},"layer":[
    {"mark":{"type":"point","opacity":0},"encoding":{"x":{"datum":5,"type":"quantitative","scale":{"domain":[-0.88,21.13],"nice":false,"zero":false},"axis":{"title":null,"values":[0,5,10,15,20],"gridWidth":1.1,"gridColor":"#e3e3e3"}},"y":{"datum":15,"type":"quantitative","scale":{"domain":[10.18,20.05],"nice":false,"zero":false},"axis":{"title":null,"values":[12.5,15,17.5,20],"gridWidth":1.1,"gridColor":"#e3e3e3"}}}},
    {"mark":{"type":"text","fontSize":17,"color":"#8c8c8c","dy":-13},"encoding":{"text":{"field":"a"}}},
    {"mark":{"type":"text","fontSize":17,"color":"#8c8c8c","dy":14},"encoding":{"text":{"field":"b"}}}
   ]},
   {"width":9,"height":98,"view":{"stroke":null,"fill":null},"data":{"values":[]},"mark":"point"},
   {"width":143,"height":98,"data":{"values":[{"a":"Corr:","b":"0.0878"}]},"layer":[
    {"mark":{"type":"point","opacity":0},"encoding":{"x":{"datum":1,"type":"quantitative","scale":{"domain":[0.07,3.48],"nice":false,"zero":false},"axis":{"title":null,"values":[1,2,3],"gridWidth":1.1,"gridColor":"#e3e3e3"}},"y":{"datum":15,"type":"quantitative","scale":{"domain":[10.18,20.05],"nice":false,"zero":false},"axis":{"title":null,"values":[12.5,15,17.5,20],"gridWidth":1.1,"gridColor":"#e3e3e3"}}}},
    {"mark":{"type":"text","fontSize":17,"color":"#8c8c8c","dy":-13},"encoding":{"text":{"field":"a"}}},
    {"mark":{"type":"text","fontSize":17,"color":"#8c8c8c","dy":14},"encoding":{"text":{"field":"b"}}}
   ]},
   {"width":25,"height":98,"view":{"fill":"#d9d9d9","stroke":"#333333","strokeWidth":1.2},"data":{"values":[{"s":"SegSumT"}]},"mark":{"type":"text","fontSize":14,"color":"#1a1a1a","angle":90},"encoding":{"text":{"field":"s"}}},

   {"width":70,"height":98,"data":{"name":"h_dsd"},"mark":{"type":"bar","color":"#595959","stroke":"#595959","strokeWidth":0.6},"encoding":{"x":{"field":"n0","type":"quantitative","title":null,"scale":{"domain":[-3.65,76.65],"nice":false,"zero":false},"axis":{"title":null,"values":[0,10,20,30,40,50,60,70],"gridWidth":{"condition":{"test":"indexof([0,20,40,60],datum.value)>=0","value":1.1},"value":0.55}}},"x2":{"datum":0},"y":{"field":"lo","type":"quantitative","title":null,"scale":{"domain":[-23,404],"nice":false,"zero":false},"axis":{"title":null,"values":[0,50,100,150,200,250,300,350,400],"gridWidth":{"condition":{"test":"indexof([0,100,200,300,400],datum.value)>=0","value":1.1},"value":0.55},"labels":true,"ticks":true,"labelOverlap":false,"labelFlush":false,"format":"d","labelExpr":"indexof([0,100,200,300,400],datum.value)>=0?datum.label:''","tickOpacity":{"condition":{"test":"indexof([0,100,200,300,400],datum.value)<0","value":0},"value":1}}},"y2":{"field":"hi"}}},
   {"width":3,"height":98,"view":{"stroke":null,"fill":null},"data":{"values":[]},"mark":"point"},
   {"width":70,"height":98,"data":{"name":"h_dsd"},"mark":{"type":"bar","color":"#595959","stroke":"#595959","strokeWidth":0.6},"encoding":{"x":{"field":"n1","type":"quantitative","title":null,"scale":{"domain":[-3.65,76.65],"nice":false,"zero":false},"axis":{"title":null,"values":[0,10,20,30,40,50,60,70],"gridWidth":{"condition":{"test":"indexof([0,20,40,60],datum.value)>=0","value":1.1},"value":0.55}}},"x2":{"datum":0},"y":{"field":"lo","type":"quantitative","title":null,"scale":{"domain":[-23,404],"nice":false,"zero":false},"axis":{"title":null,"values":[0,50,100,150,200,250,300,350,400],"gridWidth":{"condition":{"test":"indexof([0,100,200,300,400],datum.value)>=0","value":1.1},"value":0.55}}},"y2":{"field":"hi"}}},
   {"width":9,"height":98,"view":{"stroke":null,"fill":null},"data":{"values":[]},"mark":"point"},
   {"width":143,"height":98,"data":{"name":"s_seg_dsd"},"mark":{"type":"circle","color":"#000000","opacity":0.13,"size":55,"clip":true},"encoding":{"x":{"field":"x","type":"quantitative","title":null,"scale":{"domain":[10.18,20.05],"nice":false,"zero":false},"axis":{"title":null,"values":[11.25,12.5,13.75,15,16.25,17.5,18.75,20],"gridWidth":{"condition":{"test":"indexof([12.5,15,17.5,20],datum.value)>=0","value":1.1},"value":0.55}}},"y":{"field":"y","type":"quantitative","title":null,"scale":{"domain":[-17,394],"nice":false,"zero":false},"axis":{"title":null,"values":[0,50,100,150,200,250,300,350],"gridWidth":{"condition":{"test":"indexof([0,100,200,300],datum.value)>=0","value":1.1},"value":0.55}}}}},
   {"width":9,"height":98,"view":{"stroke":null,"fill":null},"data":{"values":[]},"mark":"point"},
   {"width":143,"height":98,"layer":[
    {"data":{"name":"dc_dsd"},"mark":{"type":"line","color":"#000000","strokeWidth":1.3,"interpolate":"monotone"},"encoding":{"x":{"field":"x","type":"quantitative","title":null,"scale":{"domain":[-17,394],"nice":false,"zero":false},"axis":{"title":null,"values":[0,50,100,150,200,250,300,350],"gridWidth":{"condition":{"test":"indexof([0,100,200,300],datum.value)>=0","value":1.1},"value":0.55}}},"y":{"field":"d","type":"quantitative","title":null,"scale":{"domain":[-0.000383,0.008055],"nice":false,"zero":false},"axis":{"title":null,"values":[0,0.00125,0.0025,0.00375,0.005,0.00625,0.0075],"gridWidth":{"condition":{"test":"indexof([0,0.0025,0.005,0.0075],datum.value)>=0","value":1.1},"value":0.55}}}}},
    {"data":{"name":"df_dsd"},"mark":{"type":"line","color":"#000000","strokeWidth":1.3},"encoding":{"x":{"field":"x","type":"quantitative","title":null},"y":{"field":"d","type":"quantitative","title":null},"order":{"field":"i","type":"quantitative"}}}
   ]},
   {"width":9,"height":98,"view":{"stroke":null,"fill":null},"data":{"values":[]},"mark":"point"},
   {"width":143,"height":98,"data":{"values":[{"a":"Corr:","b":"0.304"}]},"layer":[
    {"mark":{"type":"point","opacity":0},"encoding":{"x":{"datum":5,"type":"quantitative","scale":{"domain":[-0.88,21.13],"nice":false,"zero":false},"axis":{"title":null,"values":[0,5,10,15,20],"gridWidth":1.1,"gridColor":"#e3e3e3"}},"y":{"datum":100,"type":"quantitative","scale":{"domain":[-17,394],"nice":false,"zero":false},"axis":{"title":null,"values":[0,100,200,300],"gridWidth":1.1,"gridColor":"#e3e3e3"}}}},
    {"mark":{"type":"text","fontSize":17,"color":"#8c8c8c","dy":-13},"encoding":{"text":{"field":"a"}}},
    {"mark":{"type":"text","fontSize":17,"color":"#8c8c8c","dy":14},"encoding":{"text":{"field":"b"}}}
   ]},
   {"width":9,"height":98,"view":{"stroke":null,"fill":null},"data":{"values":[]},"mark":"point"},
   {"width":143,"height":98,"data":{"values":[{"a":"Corr:","b":"\u22120.297"}]},"layer":[
    {"mark":{"type":"point","opacity":0},"encoding":{"x":{"datum":1,"type":"quantitative","scale":{"domain":[0.07,3.48],"nice":false,"zero":false},"axis":{"title":null,"values":[1,2,3],"gridWidth":1.1,"gridColor":"#e3e3e3"}},"y":{"datum":100,"type":"quantitative","scale":{"domain":[-17,394],"nice":false,"zero":false},"axis":{"title":null,"values":[0,100,200,300],"gridWidth":1.1,"gridColor":"#e3e3e3"}}}},
    {"mark":{"type":"text","fontSize":17,"color":"#8c8c8c","dy":-13},"encoding":{"text":{"field":"a"}}},
    {"mark":{"type":"text","fontSize":17,"color":"#8c8c8c","dy":14},"encoding":{"text":{"field":"b"}}}
   ]},
   {"width":25,"height":98,"view":{"fill":"#d9d9d9","stroke":"#333333","strokeWidth":1.2},"data":{"values":[{"s":"DSDist"}]},"mark":{"type":"text","fontSize":14,"color":"#1a1a1a","angle":90},"encoding":{"text":{"field":"s"}}},

   {"width":70,"height":98,"data":{"name":"h_dsm"},"mark":{"type":"bar","color":"#595959","stroke":"#595959","strokeWidth":0.6},"encoding":{"x":{"field":"n0","type":"quantitative","title":null,"scale":{"domain":[-3.65,76.65],"nice":false,"zero":false},"axis":{"title":null,"values":[0,10,20,30,40,50,60,70],"gridWidth":{"condition":{"test":"indexof([0,20,40,60],datum.value)>=0","value":1.1},"value":0.55}}},"x2":{"datum":0},"y":{"field":"lo","type":"quantitative","title":null,"scale":{"domain":[-1.24,21.5],"nice":false,"zero":false},"axis":{"title":null,"values":[0,2.5,5,7.5,10,12.5,15,17.5,20],"gridWidth":{"condition":{"test":"indexof([0,5,10,15,20],datum.value)>=0","value":1.1},"value":0.55},"labels":true,"ticks":true,"labelOverlap":false,"labelFlush":false,"format":"d","labelExpr":"indexof([0,5,10,15,20],datum.value)>=0?datum.label:''","tickOpacity":{"condition":{"test":"indexof([0,5,10,15,20],datum.value)<0","value":0},"value":1}}},"y2":{"field":"hi"}}},
   {"width":3,"height":98,"view":{"stroke":null,"fill":null},"data":{"values":[]},"mark":"point"},
   {"width":70,"height":98,"data":{"name":"h_dsm"},"mark":{"type":"bar","color":"#595959","stroke":"#595959","strokeWidth":0.6},"encoding":{"x":{"field":"n1","type":"quantitative","title":null,"scale":{"domain":[-3.65,76.65],"nice":false,"zero":false},"axis":{"title":null,"values":[0,10,20,30,40,50,60,70],"gridWidth":{"condition":{"test":"indexof([0,20,40,60],datum.value)>=0","value":1.1},"value":0.55}}},"x2":{"datum":0},"y":{"field":"lo","type":"quantitative","title":null,"scale":{"domain":[-1.24,21.5],"nice":false,"zero":false},"axis":{"title":null,"values":[0,2.5,5,7.5,10,12.5,15,17.5,20],"gridWidth":{"condition":{"test":"indexof([0,5,10,15,20],datum.value)>=0","value":1.1},"value":0.55}}},"y2":{"field":"hi"}}},
   {"width":9,"height":98,"view":{"stroke":null,"fill":null},"data":{"values":[]},"mark":"point"},
   {"width":143,"height":98,"data":{"name":"s_seg_dsm"},"mark":{"type":"circle","color":"#000000","opacity":0.13,"size":55,"clip":true},"encoding":{"x":{"field":"x","type":"quantitative","title":null,"scale":{"domain":[10.18,20.05],"nice":false,"zero":false},"axis":{"title":null,"values":[11.25,12.5,13.75,15,16.25,17.5,18.75,20],"gridWidth":{"condition":{"test":"indexof([12.5,15,17.5,20],datum.value)>=0","value":1.1},"value":0.55}}},"y":{"field":"y","type":"quantitative","title":null,"scale":{"domain":[-0.88,21.13],"nice":false,"zero":false},"axis":{"title":null,"values":[0,2.5,5,7.5,10,12.5,15,17.5,20],"gridWidth":{"condition":{"test":"indexof([0,5,10,15,20],datum.value)>=0","value":1.1},"value":0.55}}}}},
   {"width":9,"height":98,"view":{"stroke":null,"fill":null},"data":{"values":[]},"mark":"point"},
   {"width":143,"height":98,"data":{"name":"s_dsd_dsm"},"mark":{"type":"circle","color":"#000000","opacity":0.13,"size":55,"clip":true},"encoding":{"x":{"field":"x","type":"quantitative","title":null,"scale":{"domain":[-17,394],"nice":false,"zero":false},"axis":{"title":null,"values":[0,50,100,150,200,250,300,350],"gridWidth":{"condition":{"test":"indexof([0,100,200,300],datum.value)>=0","value":1.1},"value":0.55}}},"y":{"field":"y","type":"quantitative","title":null,"scale":{"domain":[-0.88,21.13],"nice":false,"zero":false},"axis":{"title":null,"values":[0,2.5,5,7.5,10,12.5,15,17.5,20],"gridWidth":{"condition":{"test":"indexof([0,5,10,15,20],datum.value)>=0","value":1.1},"value":0.55}}}}},
   {"width":9,"height":98,"view":{"stroke":null,"fill":null},"data":{"values":[]},"mark":"point"},
   {"width":143,"height":98,"layer":[
    {"data":{"name":"dc_dsm"},"mark":{"type":"line","color":"#000000","strokeWidth":1.3,"interpolate":"monotone"},"encoding":{"x":{"field":"x","type":"quantitative","title":null,"scale":{"domain":[-0.88,21.13],"nice":false,"zero":false},"axis":{"title":null,"values":[0,2.5,5,7.5,10,12.5,15,17.5,20],"gridWidth":{"condition":{"test":"indexof([0,5,10,15,20],datum.value)>=0","value":1.1},"value":0.55}}},"y":{"field":"d","type":"quantitative","title":null,"scale":{"domain":[-0.01,0.2102],"nice":false,"zero":false},"axis":{"title":null,"values":[0,0.025,0.05,0.075,0.1,0.125,0.15,0.175,0.2],"gridWidth":{"condition":{"test":"indexof([0,0.05,0.1,0.15,0.2],datum.value)>=0","value":1.1},"value":0.55}}}}},
    {"data":{"name":"df_dsm"},"mark":{"type":"line","color":"#000000","strokeWidth":1.3},"encoding":{"x":{"field":"x","type":"quantitative","title":null},"y":{"field":"d","type":"quantitative","title":null},"order":{"field":"i","type":"quantitative"}}}
   ]},
   {"width":9,"height":98,"view":{"stroke":null,"fill":null},"data":{"values":[]},"mark":"point"},
   {"width":143,"height":98,"data":{"values":[{"a":"Corr:","b":"\u22120.0717"}]},"layer":[
    {"mark":{"type":"point","opacity":0},"encoding":{"x":{"datum":1,"type":"quantitative","scale":{"domain":[0.07,3.48],"nice":false,"zero":false},"axis":{"title":null,"values":[1,2,3],"gridWidth":1.1,"gridColor":"#e3e3e3"}},"y":{"datum":5,"type":"quantitative","scale":{"domain":[-0.88,21.13],"nice":false,"zero":false},"axis":{"title":null,"values":[0,5,10,15,20],"gridWidth":1.1,"gridColor":"#e3e3e3"}}}},
    {"mark":{"type":"text","fontSize":17,"color":"#8c8c8c","dy":-13},"encoding":{"text":{"field":"a"}}},
    {"mark":{"type":"text","fontSize":17,"color":"#8c8c8c","dy":14},"encoding":{"text":{"field":"b"}}}
   ]},
   {"width":25,"height":98,"view":{"fill":"#d9d9d9","stroke":"#333333","strokeWidth":1.2},"data":{"values":[{"s":"DSMaxSlope"}]},"mark":{"type":"text","fontSize":14,"color":"#1a1a1a","angle":90},"encoding":{"text":{"field":"s"}}},

   {"width":70,"height":98,"data":{"name":"h_usr"},"mark":{"type":"bar","color":"#595959","stroke":"#595959","strokeWidth":0.6},"encoding":{"x":{"field":"n0","type":"quantitative","title":null,"scale":{"domain":[-3.65,76.65],"nice":false,"zero":false},"axis":{"title":null,"values":[0,10,20,30,40,50,60,70],"gridWidth":{"condition":{"test":"indexof([0,20,40,60],datum.value)>=0","value":1.1},"value":0.55},"labels":true,"ticks":true,"labelOverlap":false,"labelFlush":false,"format":"d","labelExpr":"indexof([0,20,40,60],datum.value)>=0?datum.label:''","tickOpacity":{"condition":{"test":"indexof([0,20,40,60],datum.value)<0","value":0},"value":1}}},"x2":{"datum":0},"y":{"field":"lo","type":"quantitative","title":null,"scale":{"domain":[0.02,3.55],"nice":false,"zero":false},"axis":{"title":null,"values":[0.5,1,1.5,2,2.5,3,3.5],"gridWidth":{"condition":{"test":"indexof([1,2,3],datum.value)>=0","value":1.1},"value":0.55},"labels":true,"ticks":true,"labelOverlap":false,"labelFlush":false,"labelColor":"#4d4d4d","labelOpacity":1,"labelExpr":"indexof([1,2,3],datum.value)>=0?format(datum.value,'d'):''","tickOpacity":{"condition":{"test":"indexof([1,2,3],datum.value)<0","value":0},"value":1}}},"y2":{"field":"hi"}}},
   {"width":3,"height":98,"view":{"stroke":null,"fill":null},"data":{"values":[]},"mark":"point"},
   {"width":70,"height":98,"data":{"name":"h_usr"},"mark":{"type":"bar","color":"#595959","stroke":"#595959","strokeWidth":0.6},"encoding":{"x":{"field":"n1","type":"quantitative","title":null,"scale":{"domain":[-3.65,76.65],"nice":false,"zero":false},"axis":{"title":null,"values":[0,10,20,30,40,50,60,70],"gridWidth":{"condition":{"test":"indexof([0,20,40,60],datum.value)>=0","value":1.1},"value":0.55},"labels":true,"ticks":true,"labelOverlap":false,"labelFlush":false,"format":"d","labelExpr":"indexof([0,20,40,60],datum.value)>=0?datum.label:''","tickOpacity":{"condition":{"test":"indexof([0,20,40,60],datum.value)<0","value":0},"value":1}}},"x2":{"datum":0},"y":{"field":"lo","type":"quantitative","title":null,"scale":{"domain":[0.02,3.55],"nice":false,"zero":false},"axis":{"title":null,"values":[0.5,1,1.5,2,2.5,3,3.5],"gridWidth":{"condition":{"test":"indexof([1,2,3],datum.value)>=0","value":1.1},"value":0.55}}},"y2":{"field":"hi"}}},
   {"width":9,"height":98,"view":{"stroke":null,"fill":null},"data":{"values":[]},"mark":"point"},
   {"width":143,"height":98,"data":{"name":"s_seg_usr"},"mark":{"type":"circle","color":"#000000","opacity":0.13,"size":55,"clip":true},"encoding":{"x":{"field":"x","type":"quantitative","title":null,"scale":{"domain":[10.18,20.05],"nice":false,"zero":false},"axis":{"title":null,"values":[11.25,12.5,13.75,15,16.25,17.5,18.75,20],"gridWidth":{"condition":{"test":"indexof([12.5,15,17.5,20],datum.value)>=0","value":1.1},"value":0.55},"labels":true,"ticks":true,"labelOverlap":false,"labelFlush":false,"format":".1f","labelExpr":"indexof([12.5,15,17.5,20],datum.value)>=0?datum.label:''","tickOpacity":{"condition":{"test":"indexof([12.5,15,17.5,20],datum.value)<0","value":0},"value":1}}},"y":{"field":"y","type":"quantitative","title":null,"scale":{"domain":[0.07,3.48],"nice":false,"zero":false},"axis":{"title":null,"values":[0.5,1,1.5,2,2.5,3],"gridWidth":{"condition":{"test":"indexof([1,2,3],datum.value)>=0","value":1.1},"value":0.55}}}}},
   {"width":9,"height":98,"view":{"stroke":null,"fill":null},"data":{"values":[]},"mark":"point"},
   {"width":143,"height":98,"data":{"name":"s_dsd_usr"},"mark":{"type":"circle","color":"#000000","opacity":0.13,"size":55,"clip":true},"encoding":{"x":{"field":"x","type":"quantitative","title":null,"scale":{"domain":[-17,394],"nice":false,"zero":false},"axis":{"title":null,"values":[0,50,100,150,200,250,300,350],"gridWidth":{"condition":{"test":"indexof([0,100,200,300],datum.value)>=0","value":1.1},"value":0.55},"labels":true,"ticks":true,"labelOverlap":false,"labelFlush":false,"format":"d","labelExpr":"indexof([0,100,200,300],datum.value)>=0?datum.label:''","tickOpacity":{"condition":{"test":"indexof([0,100,200,300],datum.value)<0","value":0},"value":1}}},"y":{"field":"y","type":"quantitative","title":null,"scale":{"domain":[0.07,3.48],"nice":false,"zero":false},"axis":{"title":null,"values":[0.5,1,1.5,2,2.5,3],"gridWidth":{"condition":{"test":"indexof([1,2,3],datum.value)>=0","value":1.1},"value":0.55}}}}},
   {"width":9,"height":98,"view":{"stroke":null,"fill":null},"data":{"values":[]},"mark":"point"},
   {"width":143,"height":98,"data":{"name":"s_dsm_usr"},"mark":{"type":"circle","color":"#000000","opacity":0.13,"size":55,"clip":true},"encoding":{"x":{"field":"x","type":"quantitative","title":null,"scale":{"domain":[-0.88,21.13],"nice":false,"zero":false},"axis":{"title":null,"values":[0,2.5,5,7.5,10,12.5,15,17.5,20],"gridWidth":{"condition":{"test":"indexof([0,5,10,15,20],datum.value)>=0","value":1.1},"value":0.55},"labels":true,"ticks":true,"labelOverlap":false,"labelFlush":false,"format":"d","labelExpr":"indexof([0,5,10,15,20],datum.value)>=0?datum.label:''","tickOpacity":{"condition":{"test":"indexof([0,5,10,15,20],datum.value)<0","value":0},"value":1}}},"y":{"field":"y","type":"quantitative","title":null,"scale":{"domain":[0.07,3.48],"nice":false,"zero":false},"axis":{"title":null,"values":[0.5,1,1.5,2,2.5,3],"gridWidth":{"condition":{"test":"indexof([1,2,3],datum.value)>=0","value":1.1},"value":0.55}}}}},
   {"width":9,"height":98,"view":{"stroke":null,"fill":null},"data":{"values":[]},"mark":"point"},
   {"width":143,"height":98,"layer":[
    {"data":{"name":"dc_usr"},"mark":{"type":"line","color":"#000000","strokeWidth":1.3,"interpolate":"monotone"},"encoding":{"x":{"field":"x","type":"quantitative","title":null,"scale":{"domain":[0.07,3.48],"nice":false,"zero":false},"axis":{"title":null,"values":[0.5,1,1.5,2,2.5,3],"gridWidth":{"condition":{"test":"indexof([1,2,3],datum.value)>=0","value":1.1},"value":0.55},"labels":true,"ticks":true,"labelOverlap":false,"labelFlush":false,"format":"d","labelExpr":"indexof([1,2,3],datum.value)>=0?datum.label:''","tickOpacity":{"condition":{"test":"indexof([1,2,3],datum.value)<0","value":0},"value":1}}},"y":{"field":"d","type":"quantitative","title":null,"scale":{"domain":[-0.04,0.841],"nice":false,"zero":false},"axis":{"title":null,"values":[0,0.1,0.2,0.3,0.4,0.5,0.6,0.7,0.8],"gridWidth":{"condition":{"test":"indexof([0,0.2,0.4,0.6,0.8],datum.value)>=0","value":1.1},"value":0.55}}}}},
    {"data":{"name":"df_usr"},"mark":{"type":"line","color":"#000000","strokeWidth":1.3},"encoding":{"x":{"field":"x","type":"quantitative","title":null,"axis":{"title":null,"values":[0.5,1,1.5,2,2.5,3],"gridWidth":{"condition":{"test":"indexof([1,2,3],datum.value)>=0","value":1.1},"value":0.55},"labels":true,"ticks":true,"labelOverlap":false,"labelFlush":false,"format":"d","labelExpr":"indexof([1,2,3],datum.value)>=0?datum.label:''","tickOpacity":{"condition":{"test":"indexof([1,2,3],datum.value)<0","value":0},"value":1}}},"y":{"field":"d","type":"quantitative","title":null},"order":{"field":"i","type":"quantitative"}}}
   ]},
   {"width":25,"height":98,"view":{"fill":"#d9d9d9","stroke":"#333333","strokeWidth":1.2},"data":{"values":[{"s":"USRainDays"}]},"mark":{"type":"text","fontSize":14,"color":"#1a1a1a","angle":90},"encoding":{"text":{"field":"s"}}}
  ],"columns":12,"bounds":"flush","spacing":{"row":9,"column":0}}
 ],"spacing":2}
]
}
